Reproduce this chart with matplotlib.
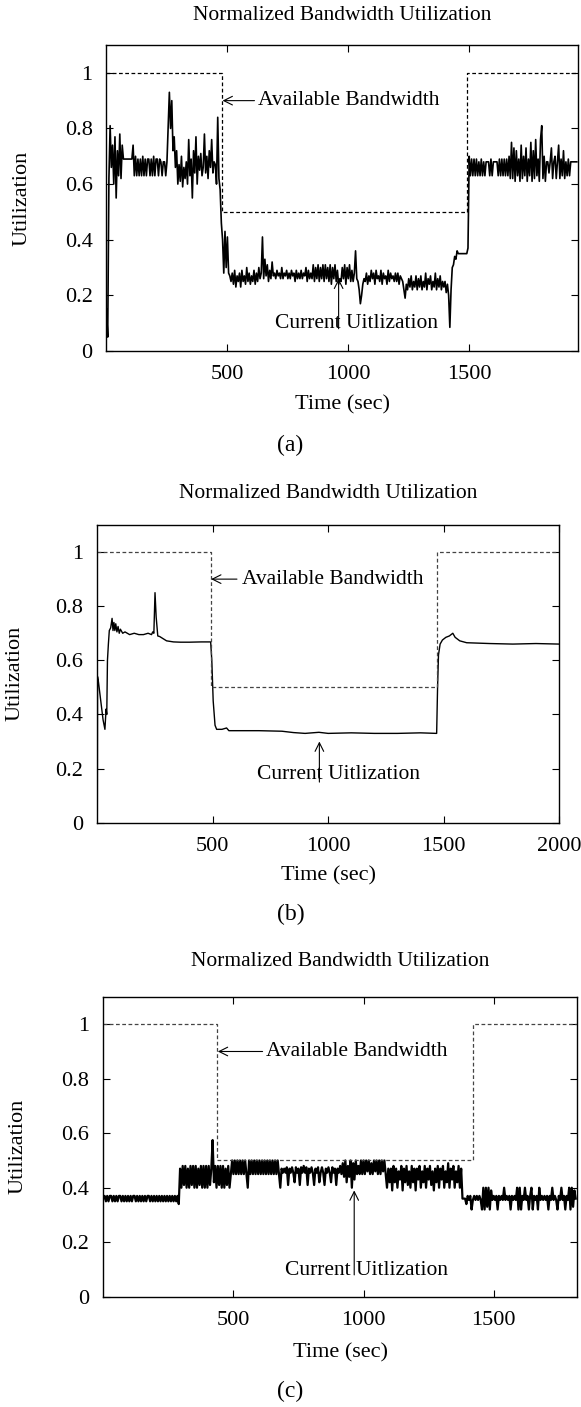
import numpy as np
import matplotlib
matplotlib.use("Agg")
import matplotlib.pyplot as plt

plt.rcParams["font.family"] = ["Liberation Serif", "DejaVu Serif"]
plt.rcParams["font.size"] = 15.5

# ---- (a) current utilization, one sample every 5 sec ----
a_step = 5
a_util = [
    0.15, 0.05, 0.62, 0.81, 0.66, 0.74, 0.60, 0.77, 0.55, 0.72, 0.63, 0.78, 0.62, 0.74, 0.69, 0.69, 0.69, 0.69, 0.69, 0.69,
    0.69, 0.69, 0.74, 0.63, 0.70, 0.63, 0.69, 0.63, 0.69, 0.63, 0.70, 0.63, 0.69, 0.63, 0.69, 0.69, 0.63, 0.69, 0.63, 0.70,
    0.63, 0.69, 0.69, 0.63, 0.69, 0.68, 0.63, 0.68, 0.68, 0.63, 0.68, 0.80, 0.93, 0.80, 0.90, 0.72, 0.77, 0.66, 0.72, 0.60,
    0.67, 0.61, 0.70, 0.59, 0.66, 0.62, 0.68, 0.60, 0.76, 0.63, 0.69, 0.55, 0.72, 0.64, 0.77, 0.60, 0.70, 0.65, 0.71, 0.63,
    0.66, 0.78, 0.64, 0.70, 0.62, 0.72, 0.66, 0.76, 0.64, 0.68, 0.67, 0.60, 0.84, 0.62, 0.58, 0.46, 0.40, 0.28, 0.43, 0.30,
    0.41, 0.28, 0.27, 0.25, 0.28, 0.24, 0.29, 0.23, 0.27, 0.25, 0.28, 0.23, 0.29, 0.25, 0.27, 0.24, 0.30, 0.25, 0.28, 0.24,
    0.27, 0.25, 0.29, 0.24, 0.28, 0.25, 0.30, 0.26, 0.28, 0.41, 0.26, 0.33, 0.27, 0.31, 0.25, 0.29, 0.26, 0.32, 0.27, 0.28,
    0.26, 0.29, 0.27, 0.28, 0.26, 0.30, 0.26, 0.28, 0.27, 0.29, 0.26, 0.28, 0.26, 0.29, 0.27, 0.28, 0.25, 0.29, 0.26, 0.28,
    0.26, 0.29, 0.26, 0.28, 0.27, 0.30, 0.25, 0.29, 0.26, 0.28, 0.26, 0.31, 0.25, 0.30, 0.26, 0.31, 0.25, 0.30, 0.26, 0.31,
    0.25, 0.31, 0.26, 0.30, 0.25, 0.31, 0.24, 0.30, 0.26, 0.31, 0.25, 0.29, 0.24, 0.26, 0.25, 0.30, 0.26, 0.31, 0.24, 0.30,
    0.26, 0.31, 0.25, 0.29, 0.25, 0.28, 0.36, 0.26, 0.25, 0.22, 0.17, 0.20, 0.24, 0.26, 0.25, 0.28, 0.24, 0.27, 0.25, 0.29,
    0.26, 0.28, 0.24, 0.29, 0.26, 0.27, 0.25, 0.29, 0.24, 0.28, 0.26, 0.27, 0.24, 0.29, 0.25, 0.28, 0.26, 0.27, 0.25, 0.28,
    0.25, 0.28, 0.24, 0.27, 0.26, 0.25, 0.22, 0.19, 0.24, 0.22, 0.26, 0.23, 0.27, 0.22, 0.25, 0.23, 0.27, 0.22, 0.26, 0.23,
    0.27, 0.22, 0.25, 0.23, 0.28, 0.22, 0.26, 0.24, 0.27, 0.22, 0.25, 0.23, 0.28, 0.22, 0.26, 0.23, 0.27, 0.22, 0.25, 0.23,
    0.25, 0.21, 0.24, 0.20, 0.085, 0.22, 0.30, 0.31, 0.34, 0.33, 0.36, 0.35, 0.35, 0.35, 0.35, 0.35, 0.35, 0.35, 0.35, 0.37,
    0.70, 0.63, 0.69, 0.63, 0.69, 0.63, 0.69, 0.63, 0.68, 0.63, 0.69, 0.63, 0.68, 0.63, 0.68, 0.68, 0.68, 0.63, 0.69, 0.63,
    0.68, 0.68, 0.68, 0.68, 0.63, 0.69, 0.63, 0.69, 0.63, 0.69, 0.63, 0.69, 0.63, 0.70, 0.62, 0.75, 0.62, 0.73, 0.61, 0.72,
    0.63, 0.69, 0.61, 0.74, 0.62, 0.70, 0.63, 0.73, 0.61, 0.69, 0.63, 0.75, 0.61, 0.72, 0.62, 0.76, 0.63, 0.69, 0.61, 0.76,
    0.81, 0.62, 0.70, 0.61, 0.68, 0.68, 0.64, 0.68, 0.73, 0.62, 0.68, 0.70, 0.62, 0.68, 0.74, 0.62, 0.69, 0.63, 0.72, 0.62,
    0.68, 0.63, 0.69, 0.63, 0.68, 0.68, 0.68, 0.68, 0.68, 0.68,
]
a_bw_t = [0, 477, 1490, 1950]
a_bw = [1.0, 0.5, 1.0, 1.0]

# ---- (b) current utilization, (time, value) points ----
b_t = [0, 1, 5, 15, 25, 33, 38, 41, 44, 48, 52, 58, 64, 68, 72, 76, 80, 85, 90, 95,
       100, 110, 120, 140, 160, 180, 200, 220, 235, 240, 245, 250, 255, 262, 270, 285, 300, 330, 360, 400,
       450, 491, 496, 502, 510, 517, 540, 560, 570, 600, 700, 800, 850, 900, 960, 1000, 1100, 1200, 1300, 1400,
       1470, 1474, 1478, 1485, 1495, 1510, 1525, 1540, 1550, 1570, 1600, 1700, 1800, 1900, 2000]
b_util = [0.0, 0.54, 0.52, 0.45, 0.38, 0.345, 0.42, 0.40, 0.60, 0.66, 0.71, 0.72, 0.755, 0.71, 0.74, 0.71, 0.735, 0.705, 0.725, 0.70,
          0.715, 0.70, 0.705, 0.695, 0.70, 0.695, 0.695, 0.70, 0.695, 0.705, 0.70, 0.85, 0.76, 0.69, 0.688, 0.68, 0.672, 0.668, 0.667, 0.667,
          0.668, 0.668, 0.60, 0.45, 0.36, 0.345, 0.345, 0.35, 0.34, 0.34, 0.34, 0.338, 0.333, 0.33, 0.334, 0.33, 0.332, 0.33, 0.33, 0.332,
          0.33, 0.50, 0.62, 0.66, 0.675, 0.685, 0.69, 0.70, 0.685, 0.672, 0.665, 0.662, 0.66, 0.662, 0.66]
b_bw_t = [0, 491, 1472, 2000]
b_bw = [1.0, 0.5, 1.0, 1.0]

# ---- (c) current utilization, one sample every 5 sec ----
c_step = 5
c_util = [
    0.36, 0.37, 0.35, 0.37, 0.35, 0.37, 0.37, 0.35, 0.37, 0.35, 0.37, 0.35, 0.37, 0.37, 0.35, 0.37, 0.35, 0.37, 0.35, 0.37,
    0.35, 0.37, 0.35, 0.37, 0.37, 0.35, 0.37, 0.35, 0.37, 0.35, 0.37, 0.35, 0.37, 0.35, 0.37, 0.37, 0.35, 0.37, 0.35, 0.37,
    0.35, 0.37, 0.35, 0.37, 0.35, 0.37, 0.35, 0.37, 0.35, 0.37, 0.35, 0.37, 0.35, 0.37, 0.35, 0.37, 0.35, 0.37, 0.34, 0.47,
    0.40, 0.48, 0.41, 0.48, 0.40, 0.47, 0.40, 0.48, 0.41, 0.48, 0.40, 0.48, 0.40, 0.47, 0.41, 0.48, 0.40, 0.48, 0.40, 0.48,
    0.40, 0.48, 0.41, 0.47, 0.575, 0.42, 0.48, 0.40, 0.48, 0.41, 0.48, 0.40, 0.48, 0.40, 0.47, 0.41, 0.48, 0.40, 0.45, 0.50,
    0.45, 0.50, 0.45, 0.50, 0.45, 0.50, 0.45, 0.50, 0.45, 0.50, 0.45, 0.40, 0.50, 0.45, 0.50, 0.45, 0.50, 0.45, 0.50, 0.45,
    0.50, 0.45, 0.50, 0.45, 0.50, 0.45, 0.50, 0.45, 0.50, 0.45, 0.50, 0.45, 0.50, 0.45, 0.50, 0.45, 0.40, 0.47, 0.455, 0.47,
    0.455, 0.475, 0.41, 0.47, 0.455, 0.475, 0.455, 0.42, 0.475, 0.455, 0.47, 0.41, 0.475, 0.455, 0.48, 0.455, 0.475, 0.41, 0.47, 0.455,
    0.475, 0.455, 0.41, 0.47, 0.455, 0.475, 0.42, 0.455, 0.475, 0.455, 0.41, 0.47, 0.455, 0.475, 0.455, 0.42, 0.475, 0.455, 0.47, 0.41,
    0.47, 0.455, 0.48, 0.45, 0.49, 0.44, 0.50, 0.42, 0.48, 0.44, 0.50, 0.40, 0.49, 0.43, 0.50, 0.45, 0.48, 0.45, 0.50, 0.45,
    0.50, 0.45, 0.50, 0.46, 0.50, 0.45, 0.49, 0.45, 0.50, 0.46, 0.50, 0.45, 0.50, 0.45, 0.50, 0.46, 0.50, 0.45, 0.40, 0.47,
    0.42, 0.47, 0.39, 0.48, 0.42, 0.47, 0.40, 0.46, 0.43, 0.48, 0.39, 0.47, 0.42, 0.48, 0.41, 0.46, 0.40, 0.48, 0.42, 0.47,
    0.39, 0.47, 0.43, 0.48, 0.40, 0.46, 0.42, 0.48, 0.40, 0.47, 0.43, 0.48, 0.41, 0.46, 0.39, 0.47, 0.42, 0.48, 0.40, 0.47,
    0.43, 0.48, 0.40, 0.46, 0.42, 0.49, 0.40, 0.47, 0.43, 0.48, 0.40, 0.46, 0.42, 0.48, 0.40, 0.47, 0.36, 0.36, 0.36, 0.34,
    0.37, 0.355, 0.37, 0.32, 0.355, 0.37, 0.355, 0.37, 0.355, 0.37, 0.355, 0.32, 0.40, 0.32, 0.40, 0.33, 0.40, 0.32, 0.39, 0.355,
    0.37, 0.355, 0.37, 0.32, 0.37, 0.355, 0.37, 0.355, 0.40, 0.355, 0.37, 0.355, 0.37, 0.32, 0.37, 0.355, 0.37, 0.355, 0.40, 0.32,
    0.40, 0.32, 0.37, 0.355, 0.40, 0.355, 0.37, 0.32, 0.37, 0.40, 0.32, 0.37, 0.355, 0.37, 0.32, 0.40, 0.355, 0.37, 0.355, 0.37,
    0.355, 0.37, 0.32, 0.37, 0.355, 0.40, 0.355, 0.37, 0.355, 0.32, 0.37, 0.355, 0.40, 0.355, 0.37, 0.32, 0.37, 0.355, 0.40, 0.32,
    0.40, 0.33, 0.39, 0.36,
]
c_bw_t = [0, 438, 1421, 1820]
c_bw = [1.0, 0.5, 1.0, 1.0]

yticks = [0, 0.2, 0.4, 0.6, 0.8, 1]
ytick_labels = ["0", "0.2", "0.4", "0.6", "0.8", "1"]

W, H = 581, 1407
fig = plt.figure(figsize=(W / 100, H / 100), dpi=100)


def panel(box, t, util, bw_t, bw, xmax, xticks, bw_arrow, bw_text, cur_arrow, cur_text,
          letter, title_y, xlab_y, cap_y, ylab_x, dash_col, lw):
    l, top, r, b = box
    ax = fig.add_axes([l / W, 1 - b / H, (r - l) / W, (b - top) / H])
    ax.plot(t, util, color="black", lw=lw)
    ax.plot(bw_t, bw, color=dash_col, lw=0.9, ls=(0, (3, 2)), drawstyle="steps-post")
    ax.set_xlim(0, xmax)
    ax.set_ylim(0, 1.1)
    ax.set_xticks(xticks)
    ax.set_yticks(yticks)
    ax.set_yticklabels(ytick_labels)
    ax.tick_params(direction="in", top=True, right=True, length=5, width=0.8, pad=10, labelsize=16)
    for s in ax.spines.values():
        s.set_linewidth(1.0)

    # annotations
    ax.annotate("", xy=bw_arrow[0], xytext=bw_arrow[1],
                arrowprops=dict(arrowstyle="->", lw=0.8, color="black", shrinkA=0, shrinkB=0))
    ax.text(bw_text[0], bw_text[1], "Available Bandwidth", ha="left", va="center")
    ax.annotate("", xy=cur_arrow[0], xytext=cur_arrow[1],
                arrowprops=dict(arrowstyle="->", lw=0.8, color="black", shrinkA=0, shrinkB=0))
    ax.text(cur_text[0], cur_text[1], "Current Uitlization", ha="center", va="center")

    cx = (l + r) / 2 / W
    fig.text(cx, 1 - title_y / H, "Normalized Bandwidth Utilization", ha="center", va="center")
    fig.text(cx, 1 - xlab_y / H, "Time (sec)", ha="center", va="center", fontsize=16)
    fig.text(0.5, 1 - cap_y / H, letter, ha="center", va="center", fontsize=17)
    ax.set_ylabel("Utilization", fontsize=16)
    ax.yaxis.set_label_coords(ylab_x, 0.5)
    return ax


a_time = np.arange(len(a_util)) * a_step
c_time = np.arange(len(c_util)) * c_step

panel((106.5, 45, 578, 351), a_time, a_util, a_bw_t, a_bw, 1950, [500, 1000, 1500],
      ((480, 0.9), (612, 0.9)), (625, 0.9), ((960, 0.26), (960, 0.08)), (1036, 0.10),
      "(a)", 15, 405, 445, -0.160, "black", 1.2)
panel((97.3, 525, 559, 822.7), b_t, b_util, b_bw_t, b_bw, 2000, [500, 1000, 1500, 2000],
      ((493, 0.9), (605, 0.9)), (628, 0.9), ((962, 0.30), (962, 0.15)), (1043, 0.177),
      "(b)", 494, 876, 914, -0.158, "#444444", 1.0)
panel((103.3, 997, 577, 1296.7), c_time, c_util, c_bw_t, c_bw, 1820, [500, 1000, 1500],
      ((440, 0.9), (612, 0.9)), (625, 0.9), ((964, 0.39), (964, 0.08)), (1013, 0.096),
      "(c)", 961, 1353, 1391, -0.160, "#444444", 1.6)

fig.savefig("out.png", dpi=100, facecolor="white")
